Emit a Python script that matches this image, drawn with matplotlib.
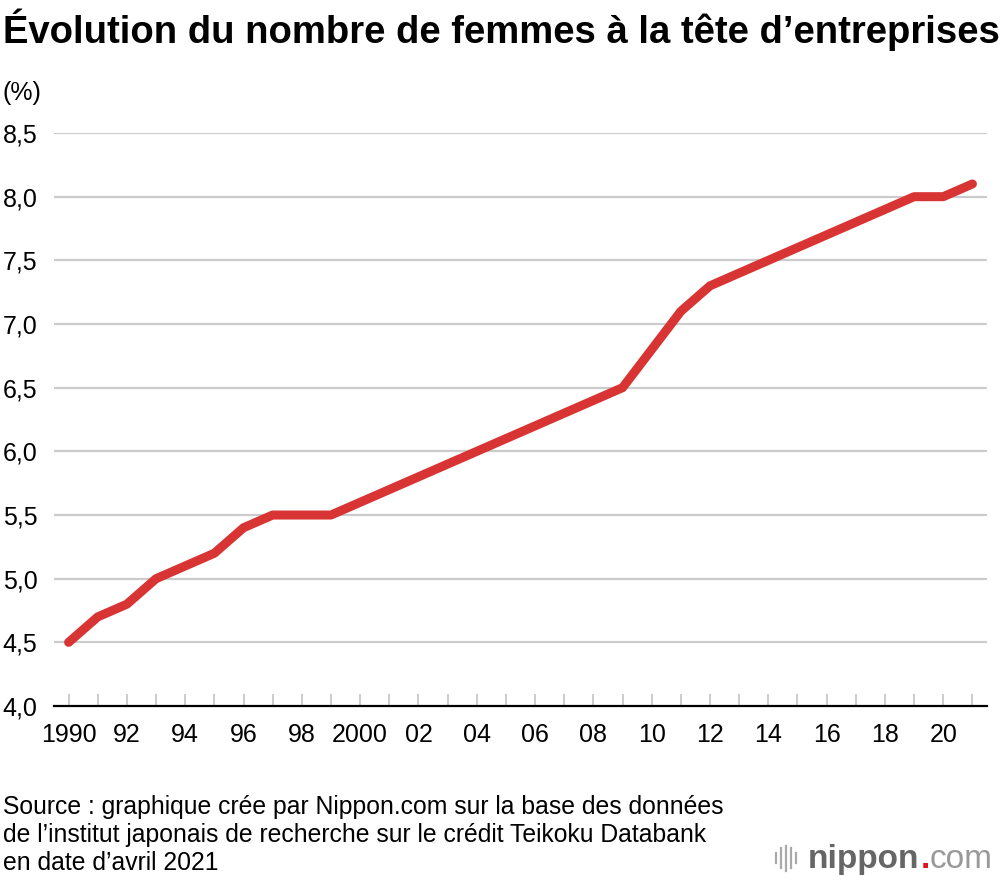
import matplotlib
matplotlib.use("Agg")
import matplotlib.pyplot as plt
from matplotlib.lines import Line2D

years = list(range(1990, 2022))
values = [4.5, 4.7, 4.8, 5.0, 5.1, 5.2, 5.4, 5.5, 5.5, 5.5,
          5.6, 5.7, 5.8, 5.9, 6.0, 6.1, 6.2, 6.3, 6.4, 6.5,
          6.8, 7.1, 7.3, 7.4, 7.5, 7.6, 7.7, 7.8, 7.9, 8.0,
          8.0, 8.1]
xtick_pos = list(range(1990, 2021, 2))
xtick_labels = ["1990", "92", "94", "96", "98", "2000", "02", "04", "06", "08",
                "10", "12", "14", "16", "18", "20"]
ytick_pos = [4.0, 4.5, 5.0, 5.5, 6.0, 6.5, 7.0, 7.5, 8.0, 8.5]
ytick_labels = ["4,0", "4,5", "5,0", "5,5", "6,0", "6,5", "7,0", "7,5", "8,0", "8,5"]

title = "Évolution du nombre de femmes à la tête d’entreprises"
source = ("Source : graphique crée par Nippon.com sur la base des données\n"
          "de l’institut japonais de recherche sur le crédit Teikoku Databank\n"
          "en date d’avril 2021")

plt.rcParams['font.family'] = ['Liberation Sans', 'DejaVu Sans']

fig = plt.figure(figsize=(10, 8.82), dpi=100)
ax = fig.add_axes([0.054, 0.1995, 0.933, 0.6497])

ax.plot(years, values, color="#d93434", lw=6.5, solid_capstyle="round",
        solid_joinstyle="round", zorder=3)

ax.set_xlim(1989.5, 2021.5)
ax.set_ylim(4.0, 8.5)
ax.set_yticks(ytick_pos)
ax.set_yticklabels(ytick_labels)
label_map = dict(zip(xtick_pos, xtick_labels))
ax.set_xticks(years)
ax.set_xticklabels([label_map.get(y, "") for y in years])

for y in ytick_pos[1:]:
    ax.axhline(y, color="#cccccc", lw=1.6, zorder=1)

for s in ["top", "right", "left"]:
    ax.spines[s].set_visible(False)
ax.spines["bottom"].set_linewidth(1.6)
ax.spines["bottom"].set_color("black")

ax.tick_params(axis="y", length=0, pad=12, labelsize=18)
ax.tick_params(axis="x", direction="in", length=9, width=1.4, color="#cccccc",
               pad=12, labelsize=18)

fig.text(0.003, 0.966, title, fontsize=27.5, fontweight="bold", va="center", ha="left")
fig.text(0.003, 0.894, "(%)", fontsize=18, va="center", ha="left")
fig.text(0.003, 0.0533, source, fontsize=17.8, va="center", ha="left", linespacing=1.21)

# logo
fig.canvas.draw()
renderer = fig.canvas.get_renderer()
t1 = fig.text(0.808, 0.026, "nippon", fontsize=24, color="#666666", ha="left",
              va="center", fontweight="bold")
bb = t1.get_window_extent(renderer)
x_dot = bb.x1 / fig.bbox.width + 0.001
t2 = fig.text(x_dot, 0.026, ".", fontsize=24, color="#e0141e", ha="left",
              va="center", fontweight="bold")
bb2 = t2.get_window_extent(renderer)
fig.text(bb2.x1 / fig.bbox.width, 0.026, "com", fontsize=24, color="#999999",
         ha="left", va="center")
bars_x = [0.776, 0.781, 0.786, 0.791, 0.796]
bars_h = [0.012, 0.022, 0.028, 0.022, 0.012]
for bx, bh in zip(bars_x, bars_h):
    fig.add_artist(Line2D([bx, bx], [0.027 - bh / 2, 0.027 + bh / 2],
                          transform=fig.transFigure, color="#aaaaaa", lw=1.6))

fig.savefig("out.png", dpi=100)
